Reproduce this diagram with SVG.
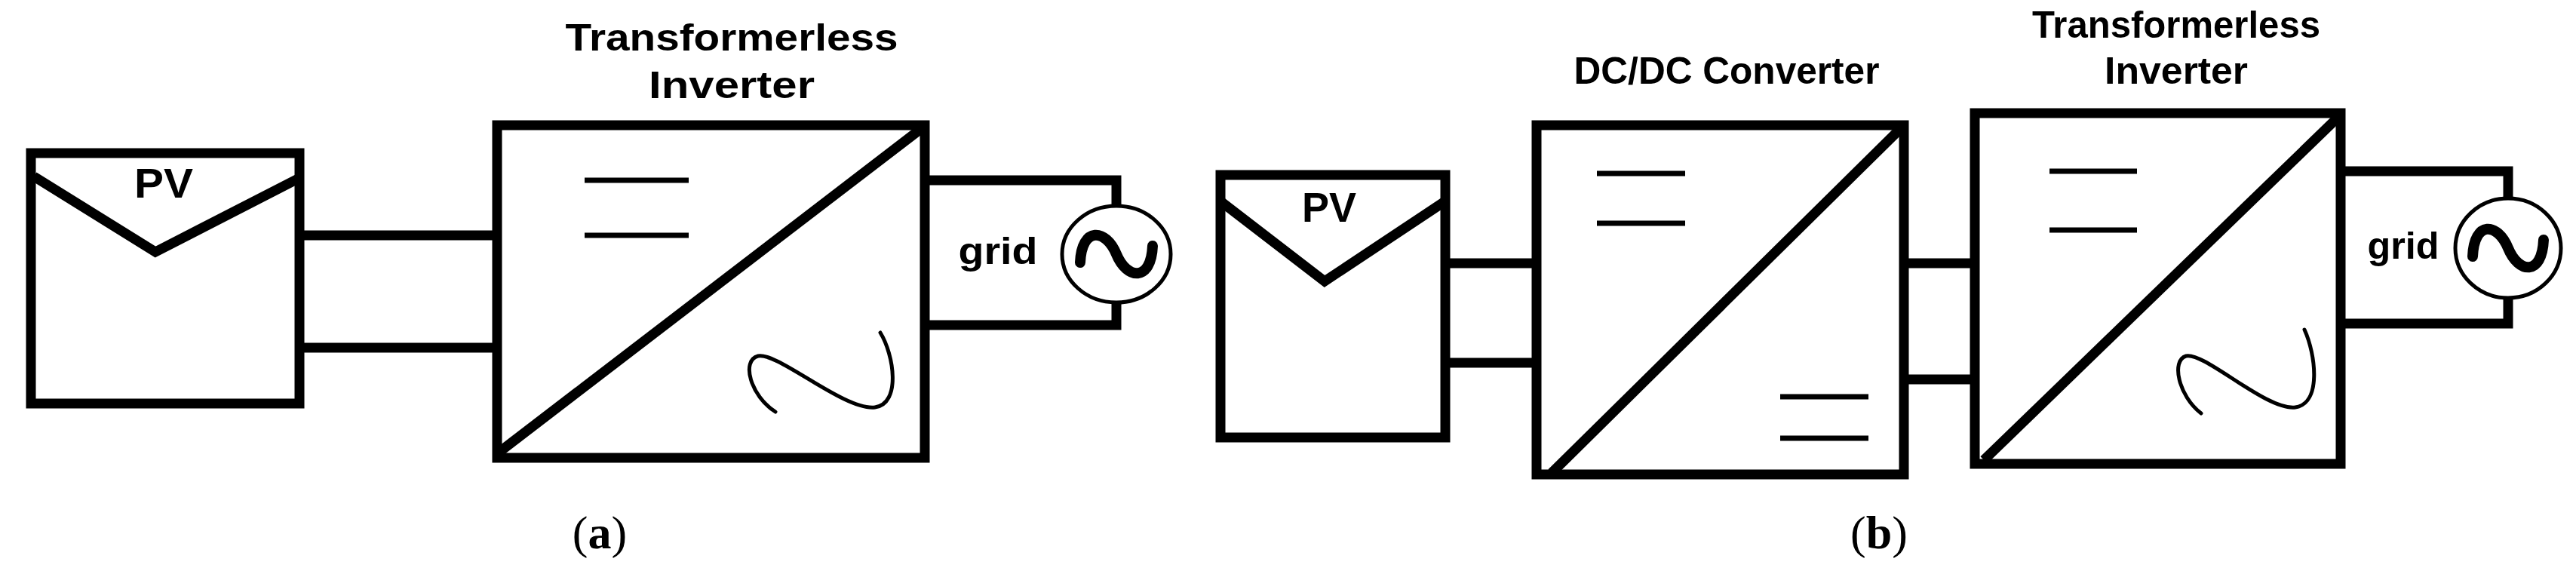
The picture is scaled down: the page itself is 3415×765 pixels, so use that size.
<svg xmlns="http://www.w3.org/2000/svg" width="3415" height="765" viewBox="0 0 3415 765">
<style>
.box{fill:#fff;stroke:#000;stroke-width:13}
.ln{stroke:#000;stroke-width:13;fill:none}
.th{stroke:#000;stroke-width:7;fill:none}
.sn{stroke:#000;stroke-width:5;fill:none;stroke-linecap:round}
.tl{stroke:#000;stroke-width:14;fill:none;stroke-linecap:round}
.t{font-family:"Liberation Sans",Arial,sans-serif;font-weight:bold;font-size:50px;text-anchor:middle;fill:#000}
.pv{font-size:56px}
.cap{font-family:"Liberation Serif","Times New Roman",serif;font-size:62px;text-anchor:middle;fill:#000}
</style>
<rect width="3415" height="765" fill="#fff"/>
<g id="connectors">
<line class="ln" x1="399" y1="312" x2="656" y2="312"/>
<line class="ln" x1="399" y1="461" x2="656" y2="461"/>
<polyline class="ln" points="1228,239 1480,239 1480,274"/>
<polyline class="ln" points="1228,431 1480,431 1480,400"/>
<line class="ln" x1="1918" y1="349" x2="2034" y2="349"/>
<line class="ln" x1="1918" y1="481" x2="2034" y2="481"/>
<line class="ln" x1="2526" y1="349" x2="2615" y2="349"/>
<line class="ln" x1="2526" y1="503" x2="2615" y2="503"/>
<polyline class="ln" points="3105,227 3325,227 3325,263"/>
<polyline class="ln" points="3105,429 3325,429 3325,395"/>
</g>
<g id="pv-a">
<rect class="box" x="41" y="203" width="356" height="332"/>
<polyline class="ln" points="45,234 206,334 395,237"/>
<text class="t pv" x="217" y="262" textLength="78" lengthAdjust="spacingAndGlyphs">PV</text>
</g>
<g id="inverter-a">
<rect class="box" x="659" y="166" width="567" height="441"/>
<line class="ln" x1="661" y1="600" x2="1222" y2="170"/>
<line class="th" x1="775" y1="239" x2="913" y2="239"/>
<line class="th" x1="775" y1="312" x2="913" y2="312"/>
<path class="sn" d="M1028,546 C995,525 982,478 1005,472 C1030,466 1120,545 1160,540 C1195,535 1185,470 1167,441"/>
<text class="t" x="970" y="67" textLength="441" lengthAdjust="spacingAndGlyphs">Transformerless</text>
<text class="t" x="970" y="130" textLength="220" lengthAdjust="spacingAndGlyphs">Inverter</text>
</g>
<g id="grid-a">
<ellipse cx="1480" cy="337" rx="72" ry="64" fill="#fff" stroke="#000" stroke-width="5"/>
<path class="tl" d="M1432,348 C1434,300 1466,303 1480,337 C1494,371 1526,374 1528,326"/>
<text class="t" x="1323" y="350" textLength="105" lengthAdjust="spacingAndGlyphs">grid</text>
</g>
<text class="cap" x="795" y="727">(<tspan font-weight="bold">a</tspan>)</text>
<g id="pv-b">
<rect class="box" x="1618" y="232" width="298" height="348"/>
<polyline class="ln" points="1617,266 1756,373 1914,268"/>
<text class="t pv" x="1762" y="294" textLength="72" lengthAdjust="spacingAndGlyphs">PV</text>
</g>
<g id="dcdc-b">
<rect class="box" x="2037" y="166" width="487" height="463"/>
<line class="ln" x1="2057" y1="627" x2="2520" y2="170"/>
<line class="th" x1="2117" y1="230" x2="2234" y2="230"/>
<line class="th" x1="2117" y1="296" x2="2234" y2="296"/>
<line class="th" x1="2360" y1="526" x2="2477" y2="526"/>
<line class="th" x1="2360" y1="581" x2="2477" y2="581"/>
<text class="t" x="2289" y="111" textLength="405" lengthAdjust="spacingAndGlyphs">DC/DC Converter</text>
</g>
<g id="inverter-b">
<rect class="box" x="2618" y="150" width="485" height="465"/>
<line class="ln" x1="2630" y1="610" x2="3099" y2="156"/>
<line class="th" x1="2717" y1="227" x2="2833" y2="227"/>
<line class="th" x1="2717" y1="305" x2="2833" y2="305"/>
<path class="sn" d="M2918,548 C2888,525 2878,478 2898,472 C2922,466 3005,545 3043,540 C3078,535 3070,470 3055,437"/>
<text class="t" x="2885" y="50" textLength="382" lengthAdjust="spacingAndGlyphs">Transformerless</text>
<text class="t" x="2885" y="111" textLength="190" lengthAdjust="spacingAndGlyphs">Inverter</text>
</g>
<g id="grid-b">
<ellipse cx="3325" cy="329" rx="70" ry="66" fill="#fff" stroke="#000" stroke-width="5"/>
<path class="tl" d="M3278,340 C3280,292 3311,295 3325,329 C3339,363 3370,366 3372,318"/>
<text class="t" x="3186" y="343" textLength="95" lengthAdjust="spacingAndGlyphs">grid</text>
</g>
<text class="cap" x="2491" y="727">(<tspan font-weight="bold">b</tspan>)</text>
</svg>
